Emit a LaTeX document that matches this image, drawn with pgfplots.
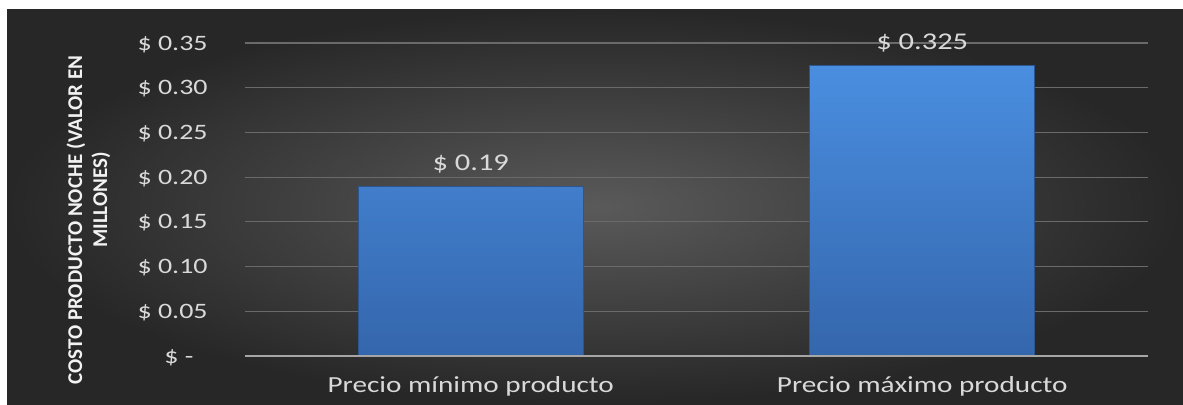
\documentclass[border=0pt]{standalone}
\usepackage{pgfplots}
\pgfplotsset{compat=1.18}
\usepackage{fontspec}
\setmainfont{Carlito}
\definecolor{bgin}{HTML}{5A5A5A}
\definecolor{bgout}{HTML}{272727}
\definecolor{gridc}{HTML}{6A6A6A}
\definecolor{axc}{HTML}{A6A6A6}
\definecolor{txt}{HTML}{D9D9D9}
\definecolor{bartop}{HTML}{4A8EE0}
\definecolor{barbot}{HTML}{3466AC}
\definecolor{baredge}{HTML}{2B5690}
\newcommand{\wide}[1]{\scalebox{1.27}[1]{#1}}
\begin{document}
\begin{tikzpicture}
\fill[white] (0,0) rectangle (591.5pt,202pt);
\shade[inner color=bgin, outer color=bgout] (3.5pt,0) rectangle (591.5pt,197.5pt);
\begin{axis}[
  at={(122.5pt,24pt)}, anchor=south west,
  width=451.5pt, height=156.5pt, scale only axis,
  xmin=-0.5, xmax=1.5, ymin=0, ymax=0.35,
  axis line style={draw=none},
  major tick length=0pt,
  /pgf/number format/assume math mode=true,
  xtick={0,1},
  xticklabels={{\wide{Precio mínimo producto}},{\wide{Precio máximo producto}}},
  xticklabel style={anchor=base, yshift=-18.25pt, inner sep=0pt, text=txt, font=\fontsize{11.5pt}{13pt}\selectfont},
  ytick={0,0.05,0.1,0.15,0.2,0.25,0.3,0.35},
  yticklabels={{\wide{\$ -\phantom{0}}},{\wide{\$ 0.05}},{\wide{\$ 0.10}},{\wide{\$ 0.15}},{\wide{\$ 0.20}},{\wide{\$ 0.25}},{\wide{\$ 0.30}},{\wide{\$ 0.35}}},
  yticklabel style={anchor=base east, xshift=-18.5pt, yshift=-3.5pt, inner sep=0pt, text=txt, font=\fontsize{11pt}{13pt}\selectfont},
  ymajorgrids, grid style={gridc, line width=0.6pt},
  ylabel={COSTO PRODUCTO NOCHE (VALOR EN\\\hspace*{20pt}MILLONES)},
  every axis y label/.style={at={(rel axis cs:0,0.4345)}, xshift=-78.25pt, rotate=90, anchor=center, align=center, text=white!95!black, font=\fontsize{10.5pt}{12.5pt}\selectfont\bfseries},
]
\addplot[ybar, bar width=112.5pt, top color=bartop, bottom color=barbot, draw=baredge, line width=0.5pt,
  point meta=explicit,
  nodes near coords={\wide{\$ \pgfmathprintnumber[fixed, precision=3, assume math mode=true]{\pgfplotspointmeta}}},
  every node near coord/.style={anchor=base, yshift=7.7pt, inner sep=0pt, text=txt, font=\fontsize{12pt}{14pt}\selectfont}]
  coordinates {(0,0.19) [0.19] (1,0.325) [0.325]};
\draw[axc, line width=1.2pt] (axis cs:-0.5,0) -- (axis cs:1.5,0);
\end{axis}
\end{tikzpicture}
\end{document}
